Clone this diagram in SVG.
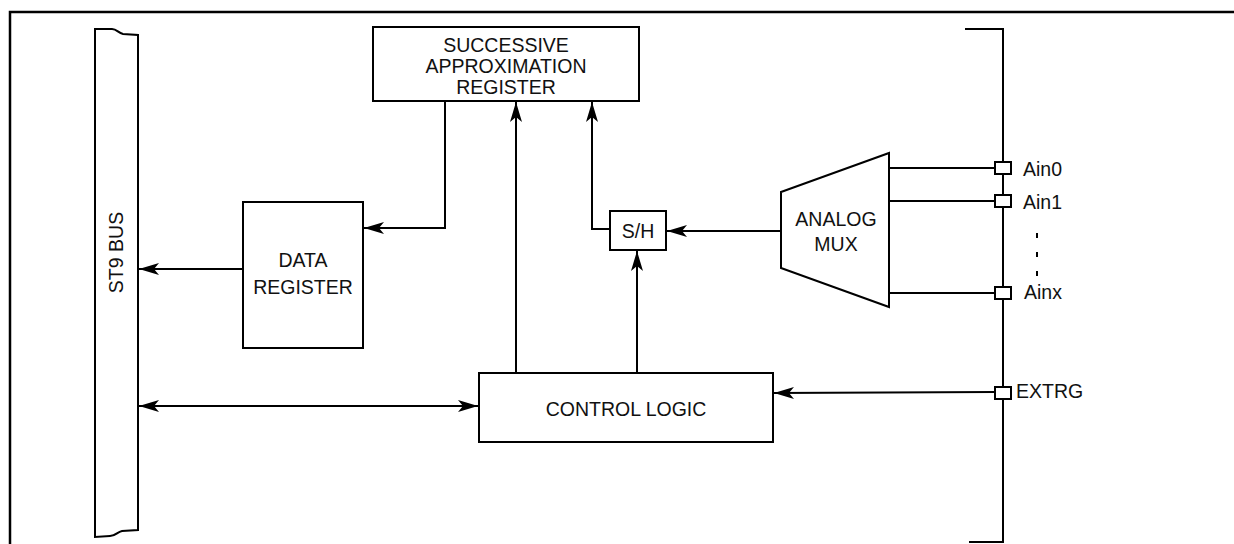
<svg xmlns="http://www.w3.org/2000/svg" width="1234" height="544" viewBox="0 0 1234 544">
<style>
.box{fill:#fff;stroke:#000;stroke-width:2}
.ln{fill:none;stroke:#000;stroke-width:2}
.pin{fill:#fff;stroke:#000;stroke-width:2}
.t{font-family:"Liberation Sans",Arial,sans-serif;font-size:19.5px;fill:#111}
.c{text-anchor:middle}
</style>
<defs>
<marker id="ah" markerUnits="userSpaceOnUse" markerWidth="22" markerHeight="14" viewBox="-22 -7 22 14" refX="0" refY="0" orient="auto-start-reverse">
<path d="M0,0 L-20,-6 L-15,0 L-20,6 Z" fill="#000"/>
</marker>
</defs>
<rect x="0" y="0" width="1234" height="544" fill="#fff"/>
<rect id="frame" x="10" y="12" width="1240" height="550" fill="none" stroke="#000" stroke-width="2.5"/>

<g id="bus">
<path class="box" d="M95,537 L95,29 L112,29 C117,29 118,33 123,34 L138,35 L138,530 L122,531 C117,532 116,536 110,536 Z"/>
<text class="t c" transform="translate(123,252.5) rotate(-90)">ST9 BUS</text>
</g>

<g id="sar">
<rect class="box" x="373" y="27" width="266" height="74"/>
<text class="t c" x="506" y="52">SUCCESSIVE</text>
<text class="t c" x="506" y="73">APPROXIMATION</text>
<text class="t c" x="506" y="94">REGISTER</text>
</g>

<g id="datareg">
<rect class="box" x="243" y="202" width="120" height="146"/>
<text class="t c" x="303" y="267">DATA</text>
<text class="t c" x="303" y="294">REGISTER</text>
</g>

<g id="sh">
<rect class="box" x="610" y="211" width="56" height="39"/>
<text class="t c" x="638" y="238">S/H</text>
</g>

<g id="mux">
<path class="box" d="M781,192 L889,153 L889,307 L781,268 Z"/>
<text class="t c" x="836" y="226">ANALOG</text>
<text class="t c" x="836" y="251">MUX</text>
</g>

<g id="control">
<rect class="box" x="479" y="373" width="294" height="69"/>
<text class="t c" x="626" y="416">CONTROL LOGIC</text>
</g>

<g id="connectors">
<path class="ln" d="M445,101 V228 H364" marker-end="url(#ah)"/>
<path class="ln" d="M243,269 H139" marker-end="url(#ah)"/>
<path class="ln" d="M139,406 H478" marker-start="url(#ah)" marker-end="url(#ah)"/>
<path class="ln" d="M516,373 V102" marker-end="url(#ah)"/>
<path class="ln" d="M610,229 H592 V102" marker-end="url(#ah)"/>
<path class="ln" d="M781,231 H667" marker-end="url(#ah)"/>
<path class="ln" d="M637,373 V251" marker-end="url(#ah)"/>
<path class="ln" d="M995,392 L774,393" marker-end="url(#ah)"/>
<path class="ln" d="M889,168 H995 M889,201 H995 M889,293 H995"/>
<path class="ln" d="M965,29 H1003 V542 H969"/>
<path class="ln" d="M1037,233 V277" stroke-dasharray="5 14"/>
</g>

<g id="pin-ain0">
<rect class="pin" x="995" y="162" width="16" height="12"/>
<text class="t" x="1023" y="176">Ain0</text>
</g>
<g id="pin-ain1">
<rect class="pin" x="995" y="195" width="16" height="12"/>
<text class="t" x="1023" y="209">Ain1</text>
</g>
<g id="pin-ainx">
<rect class="pin" x="995" y="287" width="16" height="12"/>
<text class="t" x="1024" y="299">Ainx</text>
</g>
<g id="pin-extrg">
<rect class="pin" x="995" y="387" width="16" height="12"/>
<text class="t" x="1016" y="398">EXTRG</text>
</g>
</svg>
